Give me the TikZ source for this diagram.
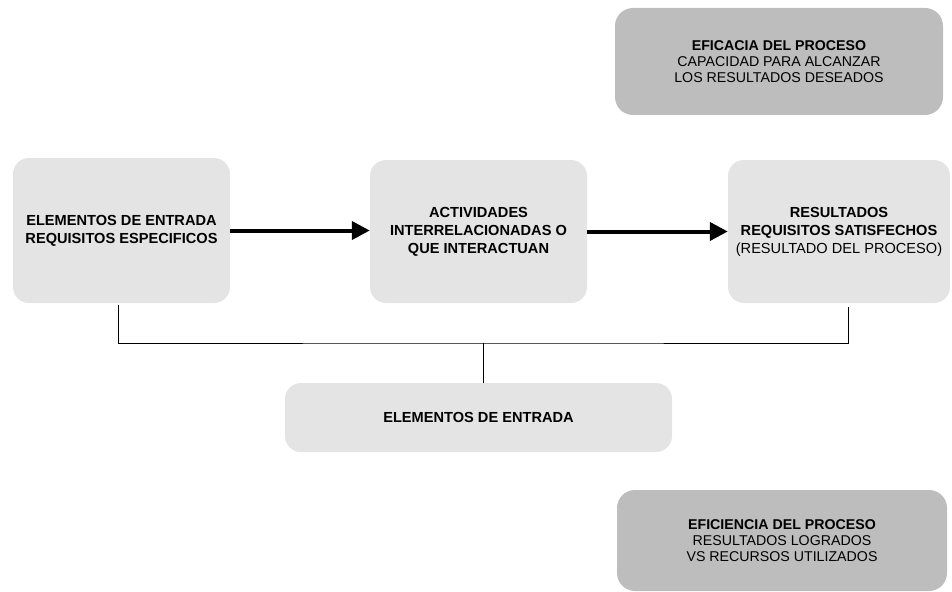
\documentclass[tikz,border=0pt]{standalone}
\usepackage{fontspec}
\setsansfont{Liberation Sans}
\usetikzlibrary{arrows.meta,positioning}
\definecolor{boxlight}{HTML}{E4E4E4}
\definecolor{boxdark}{HTML}{BDBDBD}

\begin{document}
\begin{tikzpicture}[x=1pt,y=-1pt,every node/.style={font=\sffamily},
  procbox/.style={fill=boxlight,rounded corners=16pt,align=center,inner sep=0pt,font=\sffamily\bfseries\fontsize{14.6}{18}\selectfont},
  notebox/.style={fill=boxdark,rounded corners=18pt,align=center,inner sep=0pt,font=\sffamily\fontsize{14.2}{16}\selectfont},
  flow/.style={line width=4pt,-{Triangle[length=18pt,width=18pt]}},
  link/.style={line width=0.8pt}]
\useasboundingbox (0,0) rectangle (952,591);
% process chain
\node[procbox,minimum width=217pt,minimum height=145pt] (entrada) at (121.5,230.5){ELEMENTOS DE ENTRADA\\REQUISITOS ESPECIFICOS};
\node[procbox,minimum width=217pt,minimum height=143pt] (activ) at (478.5,231.5){ACTIVIDADES\\INTERRELACIONADAS O\\QUE INTERACTUAN};
\node[procbox,minimum width=222pt,minimum height=143pt] (result) at (839,231.5){RESULTADOS\\REQUISITOS SATISFECHOS\\\mdseries(RESULTADO DEL PROCESO)};
\node[procbox,minimum width=387pt,minimum height=69pt] (salida) at (478.5,417.5){ELEMENTOS DE ENTRADA};
% notes
\node[notebox,minimum width=328pt,minimum height=107pt] (eficacia) at (779,61.5){\textbf{EFICACIA DEL PROCESO}\\CAPACIDAD PARA ALCANZAR\\LOS RESULTADOS DESEADOS};
\node[notebox,minimum width=330pt,minimum height=101pt] (eficiencia) at (782,540.5){\textbf{EFICIENCIA DEL PROCESO}\\RESULTADOS LOGRADOS\\VS RECURSOS UTILIZADOS};
% arrows
\draw[flow] (entrada.east) -- (entrada.east -| activ.west);
\draw[flow] (activ.east) -- (activ.east -| result.west);
% feedback bracket
\coordinate (join) at (483,343);
\draw[link] ([xshift=-3.5pt,yshift=-2pt]entrada.south) |- (join) -| ([xshift=9pt,yshift=-4pt]result.south);
\draw[link] (join) -- (join |- salida.north);
\end{tikzpicture}
\end{document}
